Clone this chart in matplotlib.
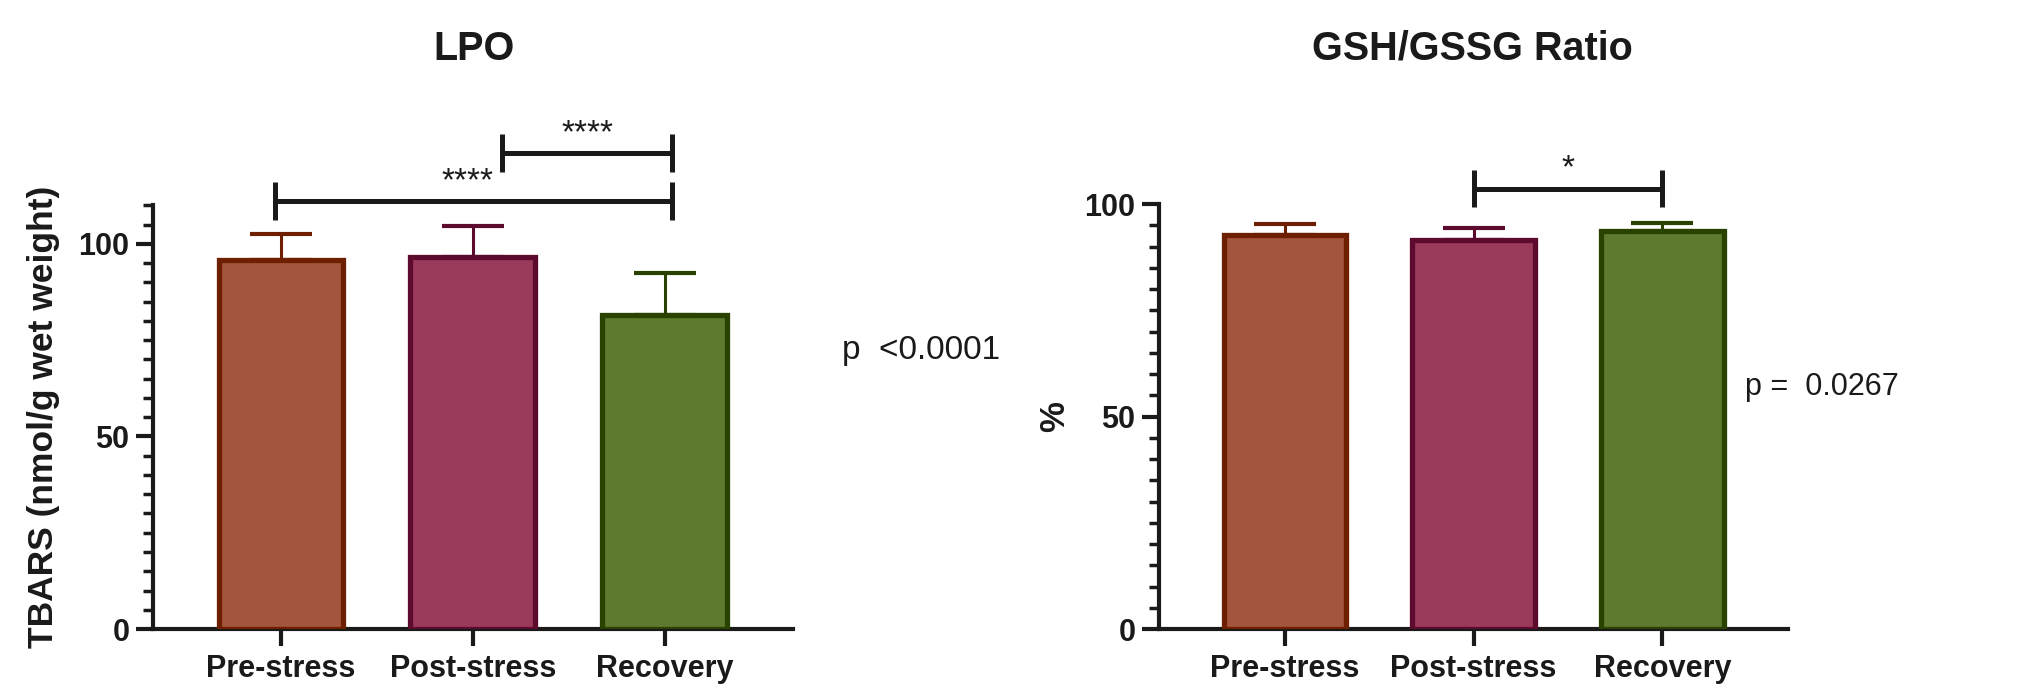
import matplotlib.pyplot as plt
from matplotlib.ticker import MultipleLocator

plt.rcParams['font.family'] = ['Liberation Sans', 'DejaVu Sans']

groups = ['Pre-stress', 'Post-stress', 'Recovery']
lpo_mean = [95.9, 96.6, 81.6]
lpo_err = [6.6, 8.0, 10.8]
gsh_mean = [92.6, 91.6, 93.7]
gsh_err = [2.6, 2.7, 1.9]

fills = ['#A3563D', '#9C3A5C', '#5E7A2E']
edges = ['#6E1F00', '#5C0A2E', '#2A4200']
ink = '#1a1a1a'

fig = plt.figure(figsize=(20.24, 6.91), dpi=100)
ax1 = fig.add_axes([0.0756, 0.0897, 0.316, 0.613])
ax2 = fig.add_axes([0.5726, 0.0897, 0.311, 0.615])


def panel(ax, means, errs, top):
    x = range(len(groups))
    for i in x:
        ax.bar(i, means[i], width=0.65, color=fills[i], edgecolor=edges[i],
               linewidth=3.8, zorder=3)
        ax.errorbar(i, means[i], yerr=[[0], [errs[i]]], color=edges[i],
                    elinewidth=2.2, capsize=22, capthick=3, zorder=2)
    ax.set_xlim(-0.667, 2.667)
    ax.set_ylim(0, top)
    ax.set_xticks(list(x))
    ax.set_xticklabels(groups, fontsize=22, fontweight='bold', color=ink)
    ax.set_yticks([0, 50, 100])
    ax.yaxis.set_minor_locator(MultipleLocator(5))
    for lab in ax.get_yticklabels():
        lab.set_fontweight('bold')
        lab.set_fontsize(22)
        lab.set_color(ink)
    for s in ['top', 'right']:
        ax.spines[s].set_visible(False)
    for s in ['left', 'bottom']:
        ax.spines[s].set_linewidth(3)
        ax.spines[s].set_color(ink)
    ax.tick_params(axis='y', which='major', length=12, width=3, color=ink, pad=5)
    ax.tick_params(axis='y', which='minor', length=7, width=2.5, color=ink)
    ax.tick_params(axis='x', length=12, width=3, color=ink, pad=6)


def bracket(ax, x0, x1, y, h, label, xt):
    ax.plot([x0, x1], [y, y], color=ink, lw=3.6, clip_on=False, solid_capstyle='butt')
    for xx in (x0, x1):
        ax.plot([xx, xx], [y - h, y + h], color=ink, lw=3.6, clip_on=False,
                solid_capstyle='butt')
    ax.text(xt, y + 1.0, label, ha='center', va='bottom', fontsize=24,
            color=ink, clip_on=False)


panel(ax1, lpo_mean, lpo_err, 110)
ax1.set_ylabel('TBARS (nmol/g wet weight)', fontsize=25.5, fontweight='bold', color=ink)
ax1.yaxis.set_label_coords(-0.145, 0.5)
bracket(ax1, -0.03, 2.04, 111.2, 4.9, '****', 0.97)
bracket(ax1, 1.15, 2.04, 123.6, 4.9, '****', 1.6)

panel(ax2, gsh_mean, gsh_err, 100)
ax2.set_ylabel('%', fontsize=25, fontweight='bold', color=ink)
ax2.yaxis.set_label_coords(-0.14, 0.5)
bracket(ax2, 1, 2, 103.6, 4.4, '*', 1.5)

fig.text(474 / 2024, 1 - 49 / 691, 'LPO', ha='center', va='center',
         fontsize=28.5, fontweight='bold', color=ink)
fig.text(1472 / 2024, 1 - 49 / 691, 'GSH/GSSG Ratio', ha='center', va='center',
         fontsize=28.5, fontweight='bold', color=ink)
fig.text(842 / 2024, 1 - 351 / 691, 'p  <0.0001', ha='left', va='center',
         fontsize=24, color=ink)
fig.text(1745 / 2024, 1 - 387 / 691, 'p =  0.0267', ha='left', va='center',
         fontsize=22, color=ink)

fig.savefig('out.png', dpi=100)
